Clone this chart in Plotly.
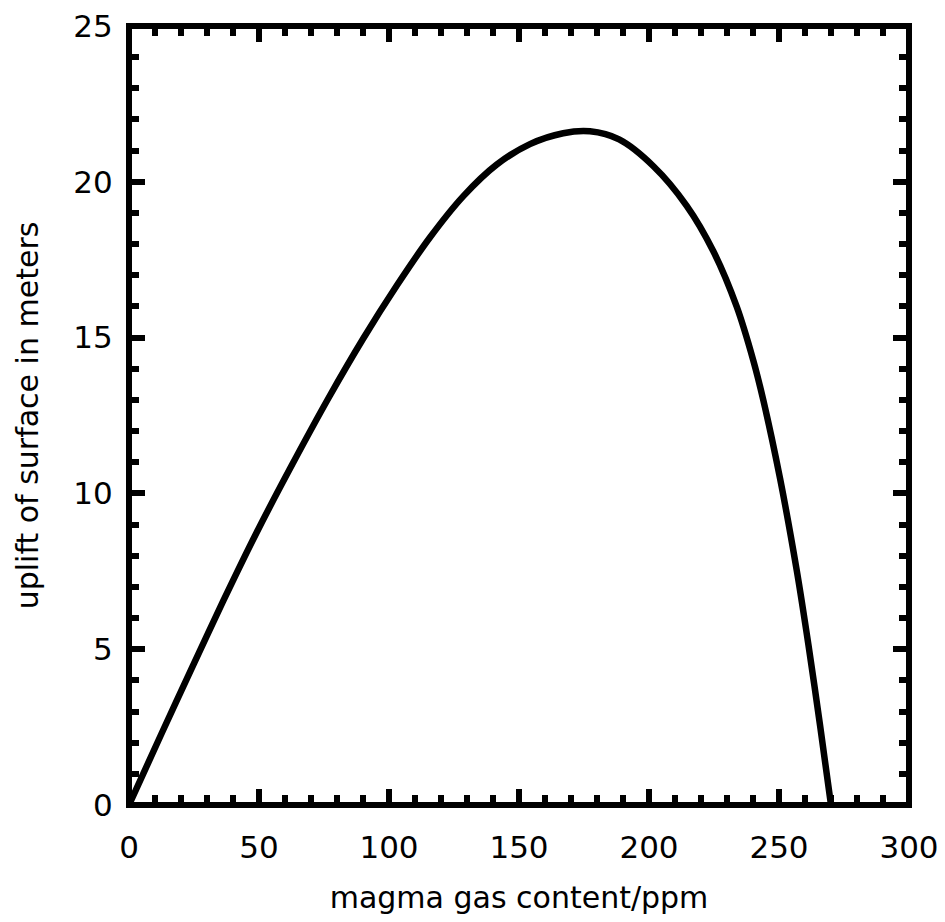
import plotly.graph_objects as go

# Data
gas_ppm = [0, 12.4, 24.6, 36.2, 49.0, 62.4, 76.8, 90.1, 103.0, 115.8, 128.6,
           141.4, 154.2, 167.0, 177.3, 188.5, 201.7, 214.5, 224.7,
           233.7, 240.1, 244.0, 250.4, 256.8, 261.3, 265.8, 270.0]
uplift_m = [0, 2.27, 4.47, 6.54, 8.73, 10.87, 13.07, 14.97, 16.67, 18.22, 19.54,
            20.55, 21.21, 21.56, 21.62, 21.36, 20.50, 19.23, 17.78,
            16.0, 14.27, 12.98, 10.48, 7.54, 5.15, 2.55, 0]

x_ticks = [0, 50, 100, 150, 200, 250, 300]
y_ticks = [0, 5, 10, 15, 20, 25]

x_title = "magma gas content/ppm"
y_title = "uplift of surface in meters"

FONT = "DejaVu Sans"

fig = go.Figure()
fig.add_trace(go.Scatter(
    x=gas_ppm, y=uplift_m, mode="lines",
    line=dict(color="black", width=6.5, shape="spline", smoothing=0.9),
    hoverinfo="skip", showlegend=False,
))

axis_common = dict(
    showline=True, linecolor="black", linewidth=1, mirror="ticks",
    ticks="inside", tickcolor="black", tickwidth=6, ticklen=16,
    showgrid=False, zeroline=False, ticklabeloverflow="allow",
    tickfont=dict(family=FONT, size=31, color="black"),
)

fig.update_xaxes(
    range=[0, 300], tickmode="array", tickvals=x_ticks,
    minor=dict(ticks="inside", dtick=10, ticklen=10, tickwidth=6, tickcolor="black", showgrid=False),
    title=dict(text=x_title, font=dict(family=FONT, size=30, color="black"), standoff=22),
    ticklabelstandoff=15,
    **axis_common,
)
fig.update_yaxes(
    range=[0, 25], tickmode="array", tickvals=y_ticks,
    minor=dict(ticks="inside", dtick=1, ticklen=10, tickwidth=6, tickcolor="black", showgrid=False),
    title=dict(text=y_title, font=dict(family=FONT, size=30, color="black"), standoff=25),
    ticklabelstandoff=9,
    **axis_common,
)

# heavy frame centred on the plot-area edge
fig.add_shape(type="rect", xref="paper", yref="paper", x0=0, y0=0, x1=1, y1=1,
              line=dict(color="black", width=6), fillcolor="rgba(0,0,0,0)", layer="above")

fig.update_layout(
    width=945, height=922,
    margin=dict(l=129, r=35.5, t=25.5, b=116.5, autoexpand=False),
    paper_bgcolor="white", plot_bgcolor="white",
)

fig.write_html("out.html", config={"displayModeBar": False},
               post_script="document.body.style.margin='0';document.body.style.overflow='hidden';")
